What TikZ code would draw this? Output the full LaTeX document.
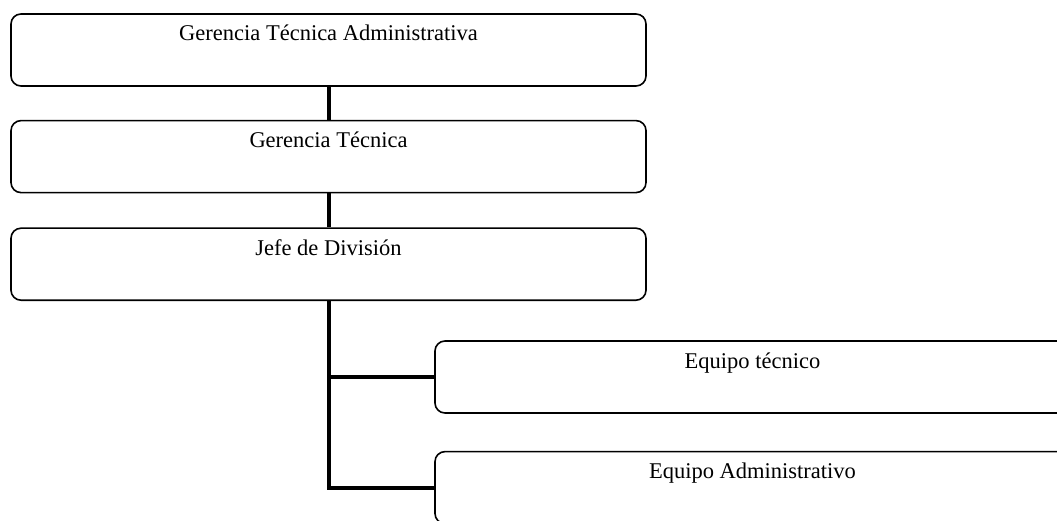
\documentclass[tikz,border=0pt]{standalone}
\usepackage{fontspec}
\setmainfont{Liberation Serif}
\usepackage{tikz}
\usetikzlibrary{positioning}
\tikzset{orgbox/.style={
  % The shape:
  rectangle, rounded corners=10pt,
  % The size:
  minimum width=635pt, minimum height=72pt, inner sep=0pt,
  % Text sits near the top:
  text height=27pt, text depth=45pt,
  % The border:
  draw=black, line width=1.6pt,
  % Font:
  font=\fontsize{22.5}{26}\selectfont,
  }
}
\tikzset{link/.style={line width=4pt, draw=black}}
\begin{document}
\begin{tikzpicture}[x=1pt, y=-1pt]
  \useasboundingbox (0,0) rectangle (1057,521);
  % Main chain:
  \node (b1) [orgbox] at (328.5,50) {Gerencia Técnica Administrativa};
  \node (b2) [orgbox, below=33pt of b1] {Gerencia Técnica};
  \node (b3) [orgbox, below=34pt of b2] {Jefe de División};
  % Teams:
  \node (b4) [orgbox] at (752.5,377) {Equipo técnico};
  \node (b5) [orgbox, below=37pt of b4] {Equipo Administrativo};

  \draw[link] (b1.south) -- (b2.north);
  \draw[link] (b2.south) -- (b3.north);
  \draw[link] (b3.south) |- (b4.west);
  \draw[link] (b3.south) |- (b5.west);
\end{tikzpicture}
\end{document}
